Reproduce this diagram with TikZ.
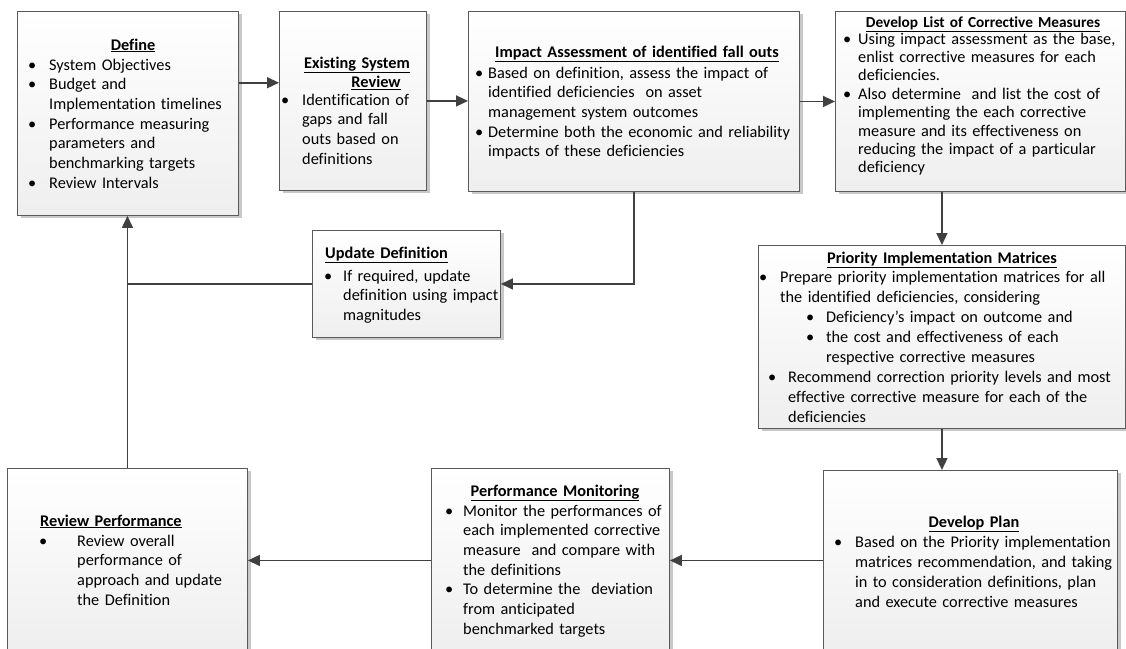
\documentclass[tikz,border=0pt]{standalone}
\usepackage{fontspec}
\setmainfont{Carlito}[Ligatures=NoCommon]
\usetikzlibrary{arrows.meta,shadows,calc}

\definecolor{boxedge}{RGB}{90,90,90}
\definecolor{flowln}{RGB}{64,64,64}
\definecolor{boxshade}{RGB}{200,200,200}

\newcommand\bodyfont{\fontsize{16.3}{19.7}\selectfont}
% bullet item: bullet offset, text offset, text
\newcommand\itm[3]{\hangindent=#2pt\hangafter=1\noindent
  \hspace*{#1pt}\makebox[\dimexpr#2pt-#1pt\relax][l]{\textbullet}#3\par}

\tikzset{
  stage/.style={draw=boxedge, line width=0.9pt, anchor=north west, inner sep=0pt,
    top color=white, bottom color=gray!13,
    drop shadow={shadow xshift=4pt, shadow yshift=-3pt, fill=boxshade, opacity=1}},
  ttl/.style={anchor=base, inner sep=0pt, text width=320pt, align=center, font=\bodyfont\bfseries},
  ttlL/.style={anchor=base west, inner sep=0pt, text width=320pt, align=left, font=\bodyfont\bfseries},
  body/.style={anchor=base west, inner sep=0pt, text width=420pt, align=left, font=\bodyfont},
  flow/.style={-{Triangle[length=12pt,width=11pt]}, flowln, line width=1.6pt},
  joinln/.style={flowln, line width=1.6pt},
}

\begin{document}
\begin{tikzpicture}[x=1pt, y=-1pt]
\useasboundingbox (0,0) rectangle (1126,648);
\clip (0,0) rectangle (1126,648);

% boxes: name/left/top/width/height
\foreach \nm/\x/\y/\w/\h in {define/17/11/221/204, sysrev/279/11/147/179,
    impact/468/11/331/180, measures/835/11/290/180, update/312/230/188/107,
    priority/758/245/367/183, plan/823/470/294/180, monitor/431/468/238/184,
    perfrev/7/468/240/184}
  \node[stage, minimum width=\w pt, minimum height=\h pt] (\nm) at (\x,\y) {};

% texts
\node[ttl] (define-t) at (133,50) {\underline{Define}};
\node[body] (define-b) at (28,70) {\itm{0}{21}{System Objectives}
  \itm{0}{21}{Budget and\newline Implementation timelines}
  \itm{0}{21}{Performance measuring\newline parameters and\newline benchmarking targets}
  \itm{0}{21}{Review Intervals}};

\node[ttl] (sysrev-t) at (357,68) {\underline{Existing System}\\\hspace*{38pt}\underline{Review}};
\node[body] (sysrev-b) at (281,105) {\itm{0}{21}{Identification of\newline gaps and fall\newline outs based on\newline definitions}};

\node[ttl] (impact-t) at (637,57) {\underline{Impact Assessment of identified fall outs}};
\node[body] (impact-b) at (475,78) {\itm{0}{13}{Based on definition, assess the impact of\newline identified deficiencies~ on asset\newline management system outcomes}
  \itm{0}{13}{Determine both the economic and reliability\newline impacts of these deficiencies}};

\node[ttl, font=\fontsize{15.3}{18}\selectfont\bfseries] (measures-t) at (983,27) {\underline{Develop List of Corrective Measures}};
\node[body, font=\fontsize{16.3}{18.4}\selectfont] (measures-b) at (843,44) {\itm{0}{15}{Using impact assessment as the base,\newline enlist corrective measures for each\newline deficiencies.}
  \itm{0}{15}{Also determine~ and list the cost of\newline implementing the each corrective\newline measure and its effectiveness on\newline reducing the impact of a particular\newline deficiency}};

\node[ttlL] (update-t) at (325,258) {\underline{Update Definition}};
\node[body] (update-b) at (324,281) {\itm{0}{19}{If required, update\newline definition using impact\newline magnitudes}};

\node[ttl] (priority-t) at (942,263) {\underline{Priority Implementation Matrices}};
\node[body, font=\fontsize{16.3}{20}\selectfont] (priority-b) at (759,282) {\itm{0}{21}{Prepare priority implementation matrices for all\newline the identified deficiencies, considering}
  \itm{47}{67}{Deficiency’s impact on outcome and}
  \itm{47}{67}{the cost and effectiveness of each\newline respective corrective measures}
  \itm{9}{29}{Recommend correction priority levels and most\newline effective corrective measure for each of the\newline deficiencies}};

\node[ttl] (plan-t) at (974,527) {\underline{Develop Plan}};
\node[body, font=\fontsize{16.3}{20}\selectfont] (plan-b) at (834,547) {\itm{0}{21}{Based on the Priority implementation\newline matrices recommendation, and taking\newline in to consideration definitions, plan\newline and execute corrective measures}};

\node[ttl] (monitor-t) at (555,496) {\underline{Performance Monitoring}};
\node[body] (monitor-b) at (445,516) {\itm{0}{18}{Monitor the performances of\newline each implemented corrective\newline measure~ and compare with\newline the definitions}
  \itm{0}{18}{To determine the~ deviation\newline from anticipated\newline benchmarked targets}};

\node[ttlL] (perfrev-t) at (40,526) {\underline{Review Performance}};
\node[body] (perfrev-b) at (39,546) {\itm{0}{38}{Review overall\newline performance of\newline approach and update\newline the Definition}};

% connectors
\coordinate (define-out) at ($(define.north east)!0.35!(define.south east)$);
\draw[flow] (define-out) -- (define-out -| sysrev.west);
\draw[flow] (sysrev.east) -- (sysrev.east -| impact.west);
\draw[flow] (impact.east) -- (impact.east -| measures.west);
\draw[flow] (measures.south -| priority.north) -- (priority.north);
\draw[flow] (priority.south) -- (priority.south |- plan.north);
\draw[flow] (plan.west) -- (plan.west -| monitor.east);
\draw[flow] (monitor.west) -- (monitor.west -| perfrev.east);
\draw[flow] (perfrev.north) -- (perfrev.north |- define.south);
\draw[flow] (impact.south) |- (update.east);
\draw[joinln] (update.west) -- (update.west -| perfrev.north);
\end{tikzpicture}
\end{document}
